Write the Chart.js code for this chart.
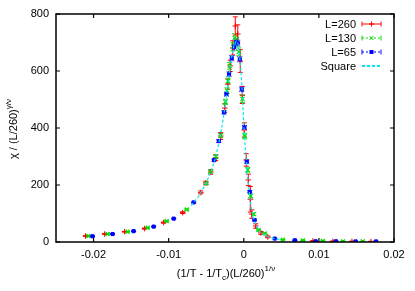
<!DOCTYPE html>
<html>
<head>
<meta charset="utf-8">
<script src="https://cdn.jsdelivr.net/npm/chart.js@4"></script>
<style>
html,body{margin:0;padding:0;background:#fff;}
#wrap{position:relative;width:415px;height:291px;}
</style>
</head>
<body>
<div id="wrap"><canvas id="c" width="415" height="291"></canvas></div>
<script>
// ---- tick labels ----
const xTickValues = [-0.02, -0.01, 0, 0.01, 0.02];
const yTickValues = [0, 200, 400, 600, 800];

// ---- series labels ----
const seriesLabels = ['L=260', 'L=130', 'L=65', 'Square'];

// ---- L=260 ----
const redX = [-0.02107,-0.01853,-0.01587,-0.0132,-0.01067,-0.00813,-0.00573,-0.00507,-0.0044,-0.00373,-0.00307,-0.00253,-0.00213,-0.0018,-0.00147,-0.00113,-0.0008,-0.00047,-0.0002,0.00007,0.00033,0.0006,0.00087,0.00107,0.0016,0.00227,0.0032,0.0092,0.01187,0.0144,0.01693];
const redY = [21,28,36,47,68,103,174,207,246,296,372,470,554,618,681,758,730,635,516,393,288,218,150,98,56,32,18,3.5,2.5,2,1.5];
const redErr = [1,1,1,2,2,3,5,6,8,10,12,15,18,20,25,32,32,40,30,25,22,20,45,15,8,5,3,1,1,1,1];

// ---- L=130 ----
const greenX = [-0.02067,-0.01813,-0.01547,-0.0128,-0.01027,-0.0076,-0.005,-0.0044,-0.00373,-0.00307,-0.00244,-0.00223,-0.00209,-0.00187,-0.00143,-0.0012,-0.00093,-0.00067,-0.00017,0.00013,0.00053,0.00093,0.00133,0.00196,0.0028,0.0052,0.00787,0.01053,0.0132,0.01583];
const greenY = [21,28,36,50,73,114,206,247,299,374,492,531,565,618,685,716,702,667,502,372,253,161,98,42,30,8,6,3.5,2.5,2];
const greenErr = [1,1,1,1,2,2,4,5,6,7,9,10,10,12,14,15,15,14,12,10,8,6,5,3,2,1,1,1,1,1];

// ---- L=65 ----
const blueX = [-0.02013,-0.01747,-0.01467,-0.012,-0.00933,-0.00667,-0.00396,-0.00333,-0.00263,-0.00231,-0.00196,-0.0016,-0.00127,-0.001,-0.0008,-0.00053,-0.00027,0.00009,0.0004,0.0008,0.00143,0.00413,0.0068,0.00956,0.01227,0.01489,0.0176];
const blueY = [20,28,38,54,82,139,287,354,455,519,589,645,684,702,698,641,536,402,282,176,77,12,6,2.5,2.5,2,2];
const blueErr = [1,1,1,1,1,2,4,5,6,7,8,9,10,10,10,9,8,7,6,4,3,1,1,1,1,1,1];

// ---- Square ----
const squareX = [-0.007,-0.006,-0.005,-0.0044,-0.0038,-0.0033,-0.0029,-0.0025,-0.0022,-0.0019,-0.0016,-0.0013,-0.001,-0.0008,-0.0006,-0.0004,-0.0002,0,0.0002,0.0004,0.0006,0.0008,0.001,0.0013,0.0017,0.0022,0.003,0.004,0.005];
const squareY = [128,160,207,245,292,350,405,475,535,600,650,690,705,700,665,610,520,415,330,265,205,160,120,85,55,33,20,12,8];

const colors = ['#ff0000', '#00dd00', '#0000ff', '#00e8f0'];
const FONT = '"Liberation Sans", Arial, Helvetica, sans-serif';

function pts(xs, ys) { return xs.map((x, i) => ({x: x, y: ys[i]})); }

const errPlugin = {
  id: 'errbars',
  beforeDatasetsDraw(chart) {
    const ctx = chart.ctx, xs = chart.scales.x, ys = chart.scales.y;
    const a = chart.chartArea;
    ctx.save();
    ctx.beginPath(); ctx.rect(a.left, a.top, a.right - a.left, a.bottom - a.top); ctx.clip();
    chart.data.datasets.forEach((ds, di) => {
      if (!ds.err) return;
      ctx.strokeStyle = ds.borderColor;
      ctx.lineWidth = 1;
      ctx.setLineDash(ds.errDash || []);
      ds.data.forEach((p, i) => {
        const e = ds.err[i];
        const px = xs.getPixelForValue(p.x);
        const y1 = ys.getPixelForValue(p.y - e), y2 = ys.getPixelForValue(p.y + e);
        ctx.beginPath();
        ctx.moveTo(px, y1); ctx.lineTo(px, y2);
        ctx.moveTo(px - 2.5, y1); ctx.lineTo(px + 2.5, y1);
        ctx.moveTo(px - 2.5, y2); ctx.lineTo(px + 2.5, y2);
        ctx.stroke();
      });
    });
    ctx.restore();
  }
};

const framePlugin = {
  id: 'frame',
  afterDraw(chart) {
    const ctx = chart.ctx, a = chart.chartArea, xs = chart.scales.x, ys = chart.scales.y;
    ctx.save();
    ctx.strokeStyle = '#000';
    ctx.lineWidth = 1.5;
    ctx.setLineDash([]);
    ctx.strokeRect(a.left, a.top, a.right - a.left, a.bottom - a.top);
    ctx.lineWidth = 1.2;
    const tl = 4;
    xTickValues.forEach(v => {
      const px = xs.getPixelForValue(v);
      ctx.beginPath();
      ctx.moveTo(px, a.bottom); ctx.lineTo(px, a.bottom - tl);
      ctx.moveTo(px, a.top); ctx.lineTo(px, a.top + tl);
      ctx.stroke();
    });
    yTickValues.forEach(v => {
      const py = ys.getPixelForValue(v);
      ctx.beginPath();
      ctx.moveTo(a.left, py); ctx.lineTo(a.left + tl, py);
      ctx.moveTo(a.right, py); ctx.lineTo(a.right - tl, py);
      ctx.stroke();
    });

    // axis titles
    ctx.fillStyle = '#000';
    ctx.textBaseline = 'alphabetic';
    const parts = [
      {t: '(1/T - 1/T', s: 11, dy: 0},
      {t: 'c', s: 8, dy: 3},
      {t: ')(L/260)', s: 11, dy: 0},
      {t: '1/\u03bd', s: 8, dy: -6}
    ];
    let w = 0;
    parts.forEach(p => { ctx.font = p.s + 'px ' + FONT; p.w = ctx.measureText(p.t).width; w += p.w; });
    let x0 = 226 - w / 2;
    const by = 277;
    ctx.textAlign = 'left';
    parts.forEach(p => { ctx.font = p.s + 'px ' + FONT; ctx.fillText(p.t, x0, by + p.dy); x0 += p.w; });
    ctx.save();
    ctx.translate(17, 129);
    ctx.rotate(-Math.PI / 2);
    const yparts = [
      {t: '\u03c7 / (L/260)', s: 11, dy: 0},
      {t: '\u03b3/\u03bd', s: 8, dy: -6}
    ];
    w = 0;
    yparts.forEach(p => { ctx.font = p.s + 'px ' + FONT; p.w = ctx.measureText(p.t).width; w += p.w; });
    x0 = -w / 2;
    yparts.forEach(p => { ctx.font = p.s + 'px ' + FONT; ctx.fillText(p.t, x0, p.dy); x0 += p.w; });
    ctx.restore();

    // legend
    ctx.font = '11px ' + FONT;
    ctx.textAlign = 'right';
    ctx.textBaseline = 'middle';
    const rowY = [24, 38, 52, 66];
    const tx = 356, sx1 = 362, sx2 = 381, sm = (sx1 + sx2) / 2;
    chart.data.datasets.forEach((ds, i) => {
      const yy = rowY[i];
      ctx.fillStyle = '#000';
      ctx.fillText(ds.label, tx, yy + 0.5);
      ctx.strokeStyle = ds.borderColor;
      ctx.lineWidth = i === 3 ? 2 : 1;
      ctx.setLineDash(i === 0 ? [] : (i === 3 ? [3, 2] : [2, 2]));
      ctx.beginPath(); ctx.moveTo(sx1, yy); ctx.lineTo(sx2, yy); ctx.stroke();
      ctx.setLineDash([]);
      if (i < 3) {
        ctx.lineWidth = 1;
        ctx.beginPath();
        ctx.moveTo(sx1, yy - 2.5); ctx.lineTo(sx1, yy + 2.5);
        ctx.moveTo(sx2, yy - 2.5); ctx.lineTo(sx2, yy + 2.5);
        ctx.stroke();
        ctx.beginPath();
        if (i === 0) {
          ctx.moveTo(sm - 2.5, yy); ctx.lineTo(sm + 2.5, yy);
          ctx.moveTo(sm, yy - 2.5); ctx.lineTo(sm, yy + 2.5);
          ctx.stroke();
        } else if (i === 1) {
          ctx.moveTo(sm - 2, yy - 2); ctx.lineTo(sm + 2, yy + 2);
          ctx.moveTo(sm - 2, yy + 2); ctx.lineTo(sm + 2, yy - 2);
          ctx.stroke();
        } else {
          ctx.fillStyle = ds.borderColor;
          ctx.fillRect(sm - 2, yy - 2, 4, 4);
        }
      }
    });
    ctx.restore();
  }
};

new Chart(document.getElementById('c'), {
  type: 'scatter',
  data: {
    datasets: [
      {label: seriesLabels[0], data: pts(redX, redY), err: redErr, borderColor: colors[0], backgroundColor: colors[0],
       pointStyle: 'cross', pointRadius: 2.8, pointBorderWidth: 1, showLine: false, order: 4},
      {label: seriesLabels[1], data: pts(greenX, greenY), err: greenErr, errDash: [2, 1], borderColor: colors[1], backgroundColor: colors[1],
       pointStyle: 'crossRot', pointRadius: 2.8, pointBorderWidth: 1.2, showLine: false, order: 3},
      {label: seriesLabels[2], data: pts(blueX, blueY), err: blueErr, errDash: [1, 1], borderColor: colors[2], backgroundColor: colors[2],
       pointStyle: 'rect', pointRadius: 2.2, pointBorderWidth: 1, showLine: false, order: 2},
      {label: seriesLabels[3], data: pts(squareX, squareY), borderColor: colors[3], backgroundColor: colors[3],
       showLine: true, borderDash: [3, 2], borderWidth: 1.2, pointRadius: 0, tension: 0, order: 1}
    ]
  },
  options: {
    responsive: false,
    animation: false,
    events: [],
    layout: {padding: {top: 14, right: 21, left: 0, bottom: 0}},
    plugins: {legend: {display: false}, tooltip: {enabled: false}, title: {display: false}},
    scales: {
      x: {
        type: 'linear', min: -0.025, max: 0.02,
        afterBuildTicks: s => { s.ticks = xTickValues.map(v => ({value: v})); },
        afterFit: s => { s.height = 49; },
        grid: {display: false, drawTicks: false},
        border: {display: false},
        ticks: {padding: 6, color: '#000', font: {family: FONT, size: 11}, maxRotation: 0,
                callback: v => String(v)}
      },
      y: {
        type: 'linear', min: 0, max: 800,
        afterBuildTicks: s => { s.ticks = yTickValues.map(v => ({value: v})); },
        afterFit: s => { s.width = 56; },
        grid: {display: false, drawTicks: false},
        border: {display: false},
        ticks: {padding: 7, color: '#000', font: {family: FONT, size: 11}, callback: v => String(v)}
      }
    }
  },
  plugins: [errPlugin, framePlugin]
});
</script>
</body>
</html>
